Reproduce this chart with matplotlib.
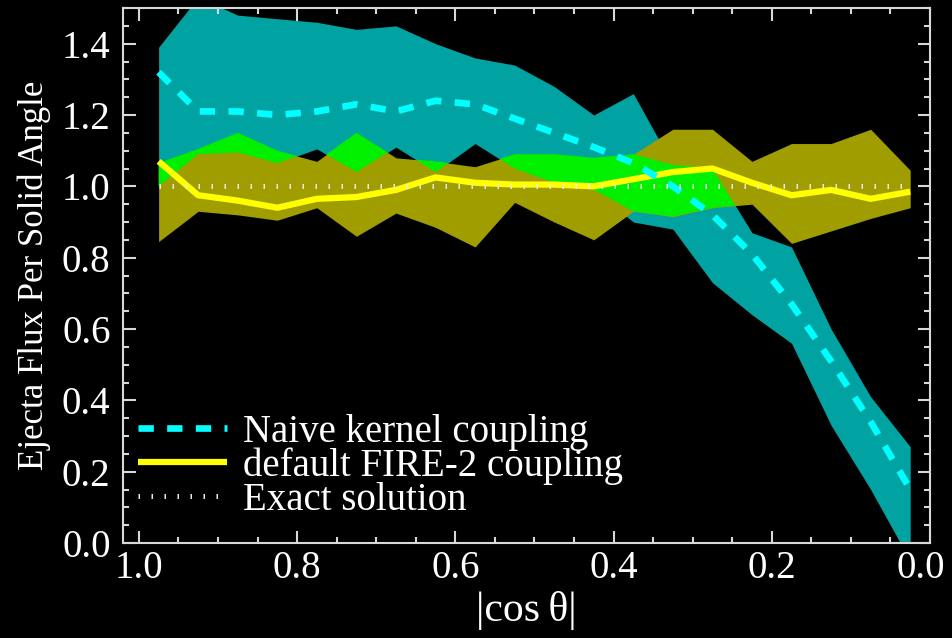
import matplotlib
matplotlib.use("Agg")
import matplotlib.pyplot as plt
import matplotlib.transforms as mtransforms
import numpy as np
from matplotlib.ticker import MultipleLocator

# |cos theta| bin centres
cos_bins = np.array([0.975, 0.925, 0.875, 0.825, 0.775, 0.725, 0.675, 0.625, 0.575, 0.525,
                     0.475, 0.425, 0.375, 0.325, 0.275, 0.225, 0.175, 0.125, 0.075, 0.025])

# naive kernel coupling: median and range
naive_mid = np.array([1.32, 1.21, 1.21, 1.20, 1.21, 1.23, 1.21, 1.24, 1.23, 1.19,
                      1.15, 1.11, 1.065, 1.00, 0.92, 0.81, 0.67, 0.51, 0.34, 0.15])
naive_hi = np.array([1.39, 1.53, 1.48, 1.47, 1.46, 1.44, 1.45, 1.40, 1.36, 1.34,
                     1.28, 1.20, 1.26, 1.06, 1.05, 0.87, 0.83, 0.60, 0.41, 0.27])
naive_lo = np.array([1.00, 1.09, 1.095, 1.065, 1.105, 1.04, 1.11, 1.04, 1.12, 1.05,
                     1.01, 0.99, 0.90, 0.88, 0.73, 0.64, 0.56, 0.33, 0.15, -0.05])

# default FIRE-2 coupling: median and range
fire_mid = np.array([1.07, 0.975, 0.96, 0.94, 0.965, 0.97, 0.99, 1.025, 1.01, 1.005,
                     1.005, 1.00, 1.02, 1.04, 1.05, 1.01, 0.975, 0.99, 0.965, 0.985])
fire_hi = np.array([1.065, 1.105, 1.15, 1.10, 1.07, 1.15, 1.08, 1.07, 1.055, 1.09,
                    1.09, 1.08, 1.09, 1.16, 1.16, 1.07, 1.12, 1.12, 1.16, 1.045])
fire_lo = np.array([0.845, 0.93, 0.92, 0.905, 0.94, 0.86, 0.925, 0.885, 0.83, 0.955,
                    0.90, 0.85, 0.93, 0.915, 0.94, 0.95, 0.84, 0.875, 0.91, 0.94])

exact = np.ones_like(cos_bins)

x_ticks = [1.0, 0.8, 0.6, 0.4, 0.2, 0.0]
y_ticks = [0.0, 0.2, 0.4, 0.6, 0.8, 1.0, 1.2, 1.4]

plt.rcParams['font.family'] = ['Liberation Serif', 'DejaVu Serif']
plt.rcParams['font.size'] = 28

fig = plt.figure(figsize=(9.52, 6.38), dpi=100, facecolor='black')
ax = fig.add_axes([123/952, 95/638, 807/952, 535/638], facecolor='black')

# shaded ranges, overlap drawn in bright green
ax.fill_between(cos_bins, naive_lo, naive_hi, color='#00a2a2', lw=0)
ax.fill_between(cos_bins, fire_lo, fire_hi, color='#a09d00', lw=0)
ov_lo = np.maximum(naive_lo, fire_lo)
ov_hi = np.minimum(naive_hi, fire_hi)
ax.fill_between(cos_bins, ov_lo, ov_hi, where=ov_lo < ov_hi, interpolate=True,
                color='#00f000', lw=0)

ax.plot(cos_bins, fire_mid, color='#ffff00', lw=4.5, solid_capstyle='butt',
        label='default FIRE-2 coupling')
ax.plot(cos_bins, naive_mid, color='#00ffff', lw=4.8, dashes=(2.3, 2.0),
        dash_capstyle='butt', label='Naive kernel coupling')
ax.plot(cos_bins, exact, color='#e8e8e8', lw=3.6, dashes=(0.3, 2.3),
        dash_capstyle='butt', label='Exact solution')

ax.set_xlim(1.02, 0.0)
ax.set_ylim(0.0, 1.5)
ax.set_xticks(x_ticks, [f'{v:.1f}' for v in x_ticks])
ax.set_yticks(y_ticks, [f'{v:.1f}' for v in y_ticks])
ax.xaxis.set_minor_locator(MultipleLocator(0.05))
ax.yaxis.set_minor_locator(MultipleLocator(0.05))

for s in ax.spines.values():
    s.set_color('#d8d8d8')
    s.set_linewidth(1.5)
ax.tick_params(which='both', direction='in', top=True, right=True,
               colors='#d8d8d8', labelcolor='white', width=1.5)
ax.tick_params(which='major', length=9, labelsize=28)
ax.tick_params(which='minor', length=4.5)
ax.tick_params(axis='y', which='major', pad=9)
ax.tick_params(axis='x', which='major', pad=5)

# nudge the last x label so it stays inside the figure
last = ax.xaxis.get_major_ticks()[-1].label1
last.set_transform(last.get_transform() +
                   mtransforms.ScaledTranslation(-7/72, 0, fig.dpi_scale_trans))

ax.set_xlabel('|cos\u2009θ|', color='white', fontsize=30, labelpad=3)
ax.set_ylabel('Ejecta Flux Per Solid Angle', color='white', fontsize=25, labelpad=8)

h, l = ax.get_legend_handles_labels()
order = [1, 0, 2]
leg = ax.legend([h[i] for i in order], [l[i] for i in order], loc='lower left',
                bbox_to_anchor=(0.018, 0.045), frameon=False, borderpad=0,
                borderaxespad=0, handlelength=2.3, handletextpad=0.4,
                labelspacing=-0.08, fontsize=28)
for t in leg.get_texts():
    t.set_color('white')

fig.savefig('out.png', dpi=100, facecolor='black')
